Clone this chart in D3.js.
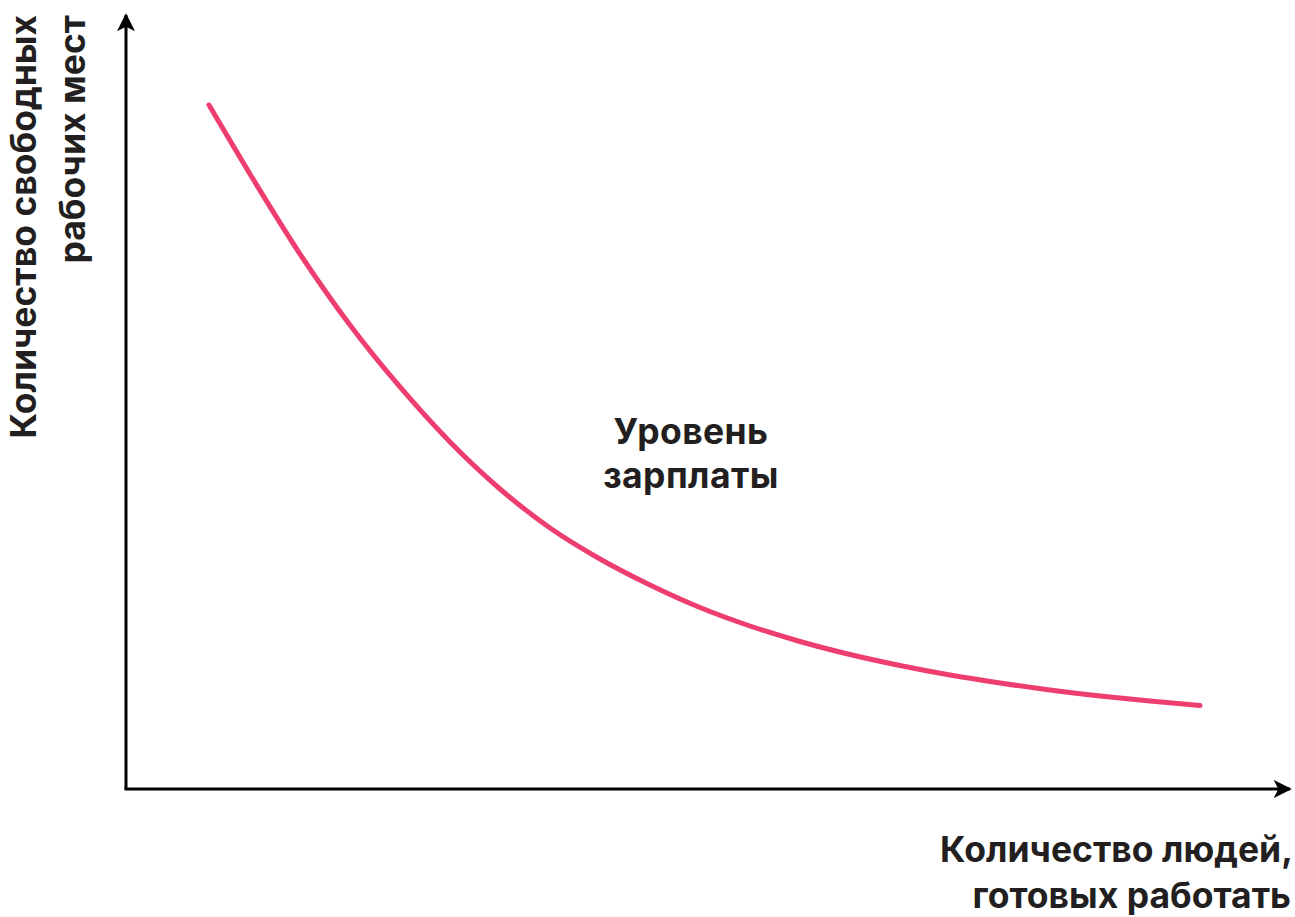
<!DOCTYPE html>
<html>
<head>
<meta charset="utf-8">
<script src="https://cdn.jsdelivr.net/npm/d3@7"></script>
<style>
  html, body { margin: 0; padding: 0; background: #fff; }
  svg { display: block; }
  text { font-family: Inter, Roboto, "Noto Sans", sans-serif; font-weight: 700; fill: #231f20; }
</style>
</head>
<body>
<svg id="chart" width="1295" height="917"></svg>
<script>
// Data (abstract units 0..100 on both axes)
const peopleReady = [7.13, 10.65, 14.95, 19.24, 23.54, 27.84, 32.13, 36.43, 40.72, 45.02, 49.31, 53.61, 57.90, 62.20, 66.49, 70.79, 75.09, 79.38, 83.68, 87.97, 92.27];
const vacancies   = [88.37, 79.46, 69.12, 59.95, 51.94, 44.83, 38.76, 33.72, 29.72, 26.36, 23.45, 21.06, 19.06, 17.38, 15.96, 14.73, 13.70, 12.79, 12.02, 11.37, 10.79];
const curveLabel = ["Уровень", "зарплаты"];
const xAxisLabel = ["Количество людей,", "готовых работать"];
const yAxisLabel = ["Количество свободных", "рабочих мест"];

const svg = d3.select("#chart");
const x = d3.scaleLinear().domain([0, 100]).range([126, 1290]);
const y = d3.scaleLinear().domain([0, 100]).range([789, 15]);

const defs = svg.append("defs");
defs.append("marker")
  .attr("id", "arrow")
  .attr("viewBox", "0 0 10 10")
  .attr("refX", 9).attr("refY", 5)
  .attr("markerWidth", 6).attr("markerHeight", 6)
  .attr("markerUnits", "strokeWidth")
  .attr("orient", "auto")
  .append("path")
  .attr("d", "M0,0 L10,5 L0,10 L2.5,5 Z")
  .attr("fill", "#000");

// Axes
svg.append("line")
  .attr("x1", x(0)).attr("y1", y(0))
  .attr("x2", x(0)).attr("y2", y(100))
  .attr("stroke", "#000").attr("stroke-width", 3)
  .attr("marker-end", "url(#arrow)");
svg.append("line")
  .attr("x1", x(0) - 1.5).attr("y1", y(0))
  .attr("x2", x(100)).attr("y2", y(0))
  .attr("stroke", "#000").attr("stroke-width", 3)
  .attr("marker-end", "url(#arrow)");

// Curve
const pts = peopleReady.map((v, i) => [v, vacancies[i]]);
const line = d3.line().x(d => x(d[0])).y(d => y(d[1])).curve(d3.curveMonotoneX);
svg.append("path")
  .datum(pts)
  .attr("d", line)
  .attr("fill", "none")
  .attr("stroke", "#ee3e6f")
  .attr("stroke-width", 5)
  .attr("stroke-linecap", "round");

// Curve label
const cl = svg.append("text")
  .attr("x", 691).attr("y", 444)
  .attr("text-anchor", "middle")
  .style("font-size", "35.5px")
  .style("letter-spacing", "0.4px");
curveLabel.forEach((t, i) => cl.append("tspan").attr("x", 691).attr("dy", i ? 44 : 0).text(t));

// X axis label (right aligned)
const xl = svg.append("text")
  .attr("x", 1291).attr("y", 862)
  .attr("text-anchor", "end")
  .style("font-size", "35.5px");
xAxisLabel.forEach((t, i) => xl.append("tspan").attr("x", i ? 1291 : 1293).attr("dy", i ? 46 : 0).text(t));

// Y axis label (rotated)
const yl = svg.append("text")
  .attr("transform", "translate(36,15) rotate(-90)")
  .attr("text-anchor", "end")
  .style("font-size", "35.5px");
yAxisLabel.forEach((t, i) => yl.append("tspan").attr("x", 0).attr("dy", i ? 49 : 0).text(t));
</script>
</body>
</html>
